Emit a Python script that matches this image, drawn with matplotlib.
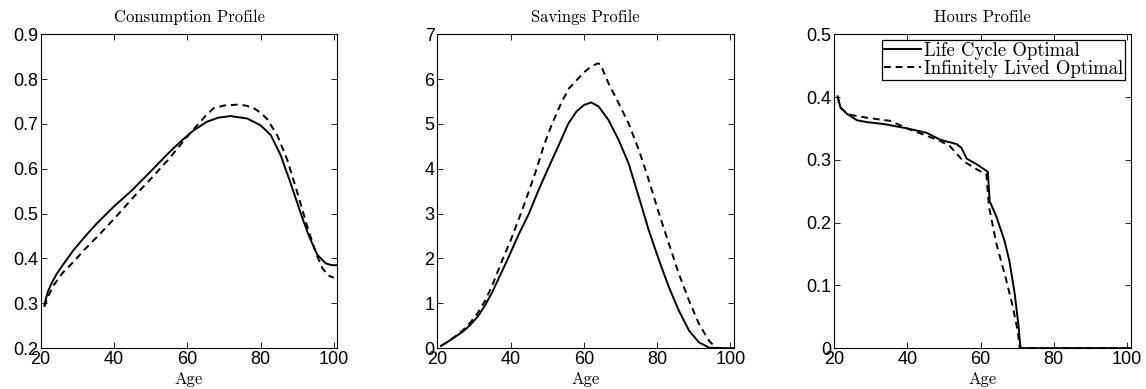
import matplotlib
matplotlib.use("Agg")
import matplotlib.pyplot as plt

# Consumption profile
cons_age = [21, 22, 23, 24.4, 26, 28.9, 32, 35.3, 40, 44.9, 50, 55, 58.1, 61.8, 65.4, 68.5, 71.8, 76.4, 80, 82.8,
            85.5, 88.2, 91, 93.2, 95.5, 97.8, 99.5, 101]
cons_lc = [0.297, 0.327, 0.345, 0.366, 0.385, 0.418, 0.448, 0.478, 0.516, 0.552, 0.594, 0.636, 0.660, 0.686, 0.705,
           0.714, 0.7175, 0.712, 0.697, 0.675, 0.630, 0.568, 0.500, 0.450, 0.408, 0.389, 0.385, 0.385]
cons_age_il = [21, 22, 23.5, 26, 28.9, 32, 36.2, 40, 45.8, 50, 55, 58, 60, 62.7, 65, 67.2, 70, 73.6, 76, 78.2, 80,
               81.8, 84.6, 87.3, 90.1, 92.8, 95.1, 96.9, 98.5, 100]
cons_il = [0.292, 0.315, 0.340, 0.368, 0.392, 0.420, 0.455, 0.488, 0.541, 0.577, 0.622, 0.652, 0.672, 0.697, 0.718,
           0.735, 0.741, 0.743, 0.741, 0.735, 0.725, 0.711, 0.674, 0.620, 0.545, 0.470, 0.412, 0.378, 0.362, 0.357]

# Savings profile
sav_age = [21, 23, 25, 27, 29, 31, 33, 35, 37, 39.3, 42, 45, 47.5, 50.2, 53, 55.7, 58, 60, 62, 64, 66.7, 69.5,
           72.2, 75, 77.7, 80.5, 83.2, 85.9, 88.7, 91.4, 94.2, 97, 101]
sav_lc = [0.05, 0.15, 0.26, 0.37, 0.52, 0.70, 0.95, 1.25, 1.60, 2.00, 2.50, 3.00, 3.50, 4.00, 4.50, 5.00, 5.28, 5.42,
          5.48, 5.39, 5.09, 4.64, 4.12, 3.37, 2.63, 1.96, 1.36, 0.84, 0.39, 0.13, 0.01, 0.0, 0.0]
sav_age_il = [21, 23, 25, 27, 29, 31, 33, 35, 37.9, 40, 42.8, 45, 47.1, 49, 51.3, 54, 56, 58.3, 60, 62, 63.8, 64.5,
              66.7, 69.5, 72.2, 75, 77.7, 80.5, 83.2, 85.9, 88.7, 91.4, 94.2, 96, 98]
sav_il = [0.05, 0.15, 0.27, 0.40, 0.57, 0.78, 1.05, 1.40, 2.00, 2.40, 3.00, 3.50, 4.00, 4.50, 5.00, 5.50, 5.80, 6.00,
          6.15, 6.28, 6.35, 6.33, 5.91, 5.46, 5.01, 4.42, 3.75, 3.00, 2.33, 1.66, 1.06, 0.54, 0.16, 0.01, 0.0]

# Hours profile
hrs_age = [21, 21.8, 23.6, 26.3, 29, 33.6, 40, 45.3, 49, 53.5, 54.8, 56.2, 58.9, 62, 62.5, 64.3, 66.6, 67.9, 69.3,
           70.4, 70.9, 80, 90, 101]
hrs_lc = [0.401, 0.383, 0.373, 0.363, 0.360, 0.357, 0.350, 0.343, 0.332, 0.325, 0.319, 0.302, 0.293, 0.281, 0.234,
          0.210, 0.170, 0.138, 0.088, 0.034, 0.0, 0.0, 0.0, 0.0]
hrs_age_il = [21, 21.8, 23.6, 25, 29, 35.4, 40, 49, 51.6, 55.3, 58.9, 61.6, 62.3, 64.3, 67, 68.8, 70.2, 70.7, 80, 90, 101]
hrs_il = [0.401, 0.383, 0.374, 0.371, 0.367, 0.362, 0.350, 0.330, 0.322, 0.298, 0.285, 0.277, 0.226, 0.167, 0.109,
          0.066, 0.026, 0.0, 0.0, 0.0, 0.0]

titles = ["Consumption Profile", "Savings Profile", "Hours Profile"]
ylims = [(0.2, 0.9), (0, 7), (0, 0.5)]
yticks = [[0.2, 0.3, 0.4, 0.5, 0.6, 0.7, 0.8, 0.9], [0, 1, 2, 3, 4, 5, 6, 7], [0, 0.1, 0.2, 0.3, 0.4, 0.5]]
ylabels = [["0.2", "0.3", "0.4", "0.5", "0.6", "0.7", "0.8", "0.9"],
           ["0", "1", "2", "3", "4", "5", "6", "7"],
           ["0", "0.1", "0.2", "0.3", "0.4", "0.5"]]
series = [(cons_age, cons_lc, cons_age_il, cons_il),
          (sav_age, sav_lc, sav_age_il, sav_il),
          (hrs_age, hrs_lc, hrs_age_il, hrs_il)]

serif = "cmr10"
tick_font = "Liberation Sans"

fig = plt.figure(figsize=(11.46, 3.89), dpi=100)
lefts = [0.0355, 0.3816, 0.7277]

for i in range(3):
    ax = fig.add_axes([lefts[i], 0.105, 0.259, 0.807])
    a1, v1, a2, v2 = series[i]
    ax.plot(a1, v1, color="black", lw=1.4, ls="-", label="Life Cycle Optimal")
    ax.plot(a2, v2, color="black", lw=1.4, ls=(0, (3.5, 2.5)), label="Infinitely Lived Optimal")
    ax.set_xlim(20, 101)
    ax.set_ylim(*ylims[i])
    ax.set_xticks([20, 40, 60, 80, 100])
    ax.set_xticklabels(["20", "40", "60", "80", "100"], fontfamily=tick_font, fontsize=13)
    ax.set_yticks(yticks[i])
    ax.set_yticklabels(ylabels[i], fontfamily=tick_font, fontsize=13)
    ax.tick_params(direction="in", top=True, right=True, length=4, width=0.6, pad=2)
    for s in ax.spines.values():
        s.set_linewidth(0.8)
    ax.set_title(titles[i], fontfamily=serif, fontsize=12, pad=9)
    ax.set_xlabel("Age", fontfamily=serif, fontsize=12, labelpad=3)
    if i == 2:
        leg = ax.legend(loc="upper right", prop={"family": serif, "size": 13.5}, frameon=True, fancybox=False,
                        edgecolor="black", framealpha=1, borderaxespad=0.3, borderpad=0.1,
                        labelspacing=0.0, handlelength=2.0, handletextpad=0.15)
        leg.get_frame().set_linewidth(0.9)

fig.savefig("out.png", dpi=100)
